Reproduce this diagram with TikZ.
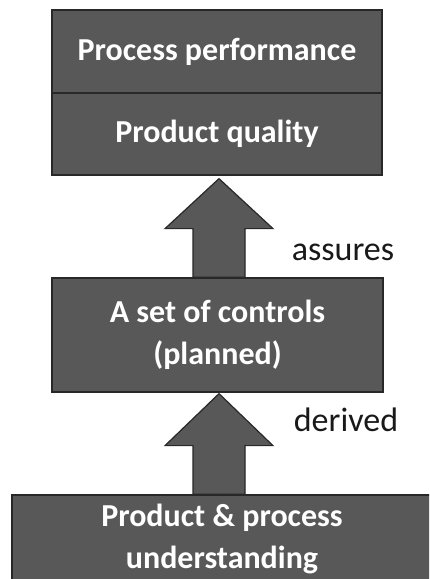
\documentclass[tikz,border=0pt]{standalone}
\usepackage{fontspec}
\setmainfont{Carlito}
\usetikzlibrary{calc}
\definecolor{boxgray}{RGB}{88,88,88}
\definecolor{edgegray}{RGB}{40,40,40}
\tikzset{
  box/.style={rectangle, draw=edgegray, line width=1.3pt, fill=boxgray,
    text=white, font=\fontsize{32}{42}\selectfont\bfseries, align=center,
    inner sep=0pt},
  blockarrow/.style={draw=edgegray, line width=1.2pt, fill=boxgray, line join=miter},
  label/.style={font=\fontsize{34}{40}\selectfont, text=black!90}
}
\begin{document}
\begin{tikzpicture}[x=1pt,y=1pt]
\useasboundingbox (0,0) rectangle (429,579);
\clip (0,0) rectangle (429,579);
% outcome box, split in two rows
\node[box, minimum width=330pt, minimum height=83pt] (perf) at (217,527.5) {Process performance};
\node[box, minimum width=330pt, minimum height=82pt] (qual) at (217,445) {Product quality};
% controls box
\node[box, minimum width=331pt, minimum height=114pt] (ctrl) at (217.5,244) {\raisebox{-3pt}{A set of controls}\\\raisebox{-3pt}{(planned)}};
% knowledge base box, running off the page edge
\node[box, minimum width=420pt, minimum height=87pt] (know) at (222,40.5) {Product \& process\\understanding};
% arrow tips just below the upper boxes
\coordinate (tipA) at ($(qual.south)+(2,-3)$);
\coordinate (tipB) at ($(ctrl.south)+(1.5,-1)$);
% block arrows
\path[blockarrow] ($(ctrl.north)+(-24.5,0)$) |- ($(tipA)+(-54,-50)$) -- (tipA)
  -- ++(54,-50) -| ($(ctrl.north)+(27.5,0)$) -- cycle;
\path[blockarrow] ($(know.north)+(-29,0)$) |- ($(tipB)+(-54,-52)$) -- (tipB)
  -- ++(54,-52) -| ($(know.north)+(23,0)$) -- cycle;
% arrow labels
\node[label] (lblA) at (343,327) {assures};
\node[label] (lblB) at (346,159) {derived};
\end{tikzpicture}
\end{document}
